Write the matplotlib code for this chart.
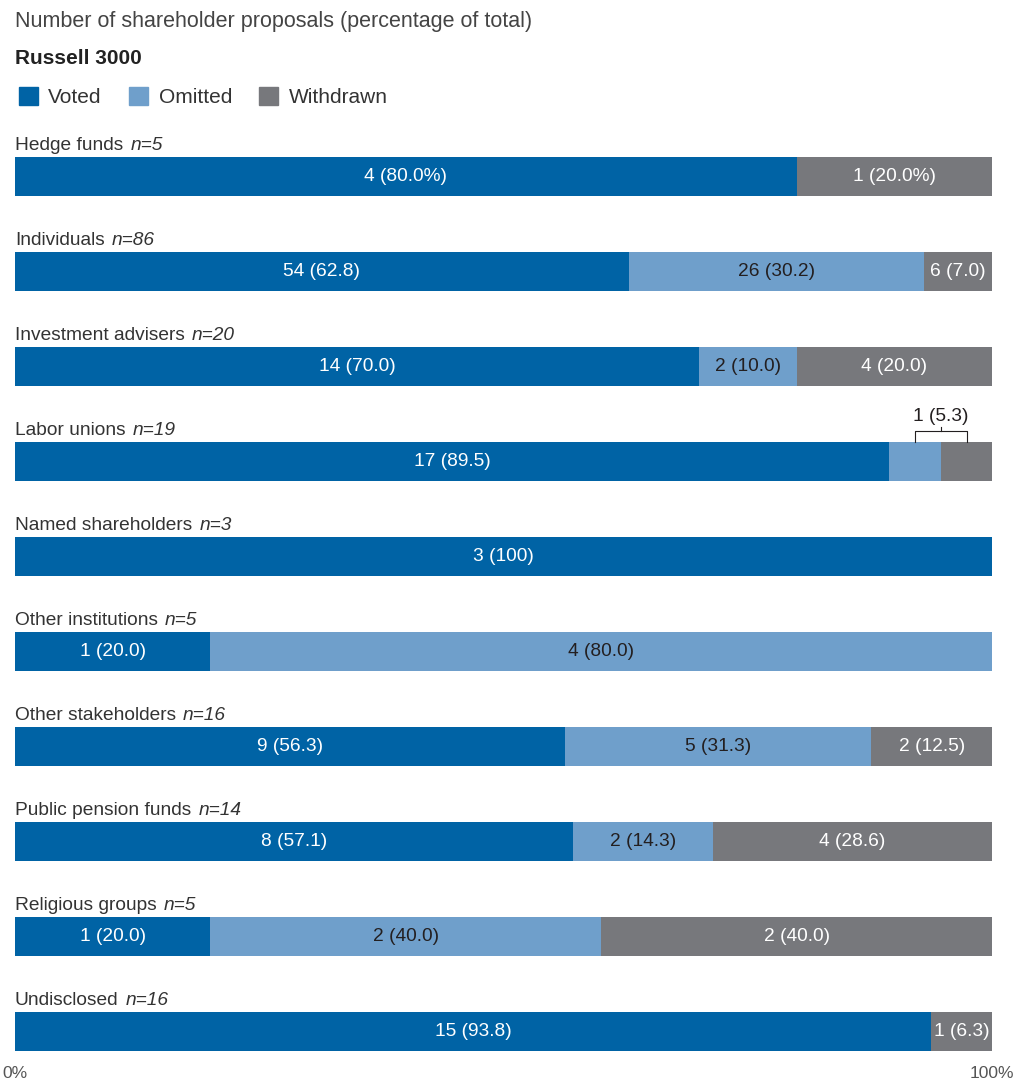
import matplotlib.pyplot as plt
from matplotlib.patches import Patch

plt.rcParams['font.family'] = ['Liberation Sans', 'DejaVu Sans']

categories = ["Hedge funds", "Individuals", "Investment advisers", "Labor unions",
              "Named shareholders", "Other institutions", "Other stakeholders",
              "Public pension funds", "Religious groups", "Undisclosed"]
n_total = [5, 86, 20, 19, 3, 5, 16, 14, 5, 16]

voted = [4, 54, 14, 17, 3, 1, 9, 8, 1, 15]
omitted = [0, 26, 2, 1, 0, 4, 5, 2, 2, 0]
withdrawn = [1, 6, 4, 1, 0, 0, 2, 4, 2, 1]

voted_pct = [80.0, 62.8, 70.0, 89.5, 100, 20.0, 56.3, 57.1, 20.0, 93.8]
omitted_pct = [0, 30.2, 10.0, 5.3, 0, 80.0, 31.3, 14.3, 40.0, 0]
withdrawn_pct = [20.0, 7.0, 20.0, 5.3, 0, 0, 12.5, 28.6, 40.0, 6.3]

C_VOTED = "#0063a5"
C_OMIT = "#6f9fcb"
C_WITH = "#77787c"
DARK = "#231f20"
FS = 13.8

W, H = 1013, 1082
fig = plt.figure(figsize=(W / 100, H / 100), dpi=100)
ax = fig.add_axes([15 / W, 1 - 1051 / H, 977 / W, 894 / H])

bar_h = 0.41
ys = list(range(len(categories)))


def fmt(p, i):
    s = "100" if p == 100 else f"{p:.1f}"
    if i == 0:
        s += "%"
    return s


left = [0] * len(categories)
series = [(voted, voted_pct, C_VOTED, "white"),
          (omitted, omitted_pct, C_OMIT, DARK),
          (withdrawn, withdrawn_pct, C_WITH, "white")]
for counts, pcts, col, tcol in series:
    ax.barh(ys, pcts, left=left, height=bar_h, color=col, linewidth=0)
    for i, (c, p) in enumerate(zip(counts, pcts)):
        if c == 0:
            continue
        # labor unions: small segments get a bracket label instead
        if categories[i] == "Labor unions" and col != C_VOTED:
            continue
        ax.text(left[i] + p / 2, i, f"{c} ({fmt(p, i)})", ha="center", va="center",
                color=tcol, fontsize=FS)
    left = [l + p for l, p in zip(left, pcts)]

# bracket for labor unions
li = categories.index("Labor unions")
x1 = voted_pct[li] + omitted_pct[li] / 2
x2 = voted_pct[li] + omitted_pct[li] + withdrawn_pct[li] / 2
ytop = li - bar_h / 2
yb = ytop - 0.12
ax.plot([x1, x1, x2, x2], [ytop, yb, yb, ytop], color=DARK, lw=0.8, clip_on=False)
ax.plot([(x1 + x2) / 2] * 2, [yb, yb - 0.035], color=DARK, lw=0.8, clip_on=False)
ax.text((x1 + x2) / 2, yb - 0.06, f"{omitted[li]} ({omitted_pct[li]:.1f})",
        ha="center", va="bottom", color=DARK, fontsize=FS)

# category labels with italic n=
for i, (cat, n) in enumerate(zip(categories, n_total)):
    t = ax.text(0, i - bar_h / 2 - 0.075, cat, ha="left", va="baseline",
                fontsize=FS, color="#333333")
    ax.annotate(f"n={n}", xy=(1, 0), xycoords=t, xytext=(5, 0),
                textcoords="offset points", ha="left", va="bottom",
                fontsize=FS, style="italic", color="#333333")

ax.set_xlim(0, 100)
ax.set_ylim(len(categories) - 1 + bar_h / 2, -bar_h / 2)
ax.set_yticks([])
ax.set_xticks([0, 100])
ax.set_xticklabels(["0%", "100%"], fontsize=12.5, color="#555555")
ax.tick_params(axis="x", length=0, pad=11)
for s in ax.spines.values():
    s.set_visible(False)

fig.text(15 / W, 1 - 21 / H, "Number of shareholder proposals (percentage of total)",
         fontsize=15.5, color="#444444", va="center")
fig.text(15 / W, 1 - 58 / H, "Russell 3000", fontsize=15, weight="bold",
         color="#222222", va="center")

handles = [Patch(color=C_VOTED, label="Voted"),
           Patch(color=C_OMIT, label="Omitted"),
           Patch(color=C_WITH, label="Withdrawn")]
fig.legend(handles=handles, loc="center left", bbox_to_anchor=(0 / W, 1 - 97 / H),
           ncol=3, frameon=False, fontsize=15, handlelength=0.92, handleheight=0.92,
           handletextpad=0.5, columnspacing=1.3, labelcolor="#333333")

fig.savefig("out.png", dpi=100)
